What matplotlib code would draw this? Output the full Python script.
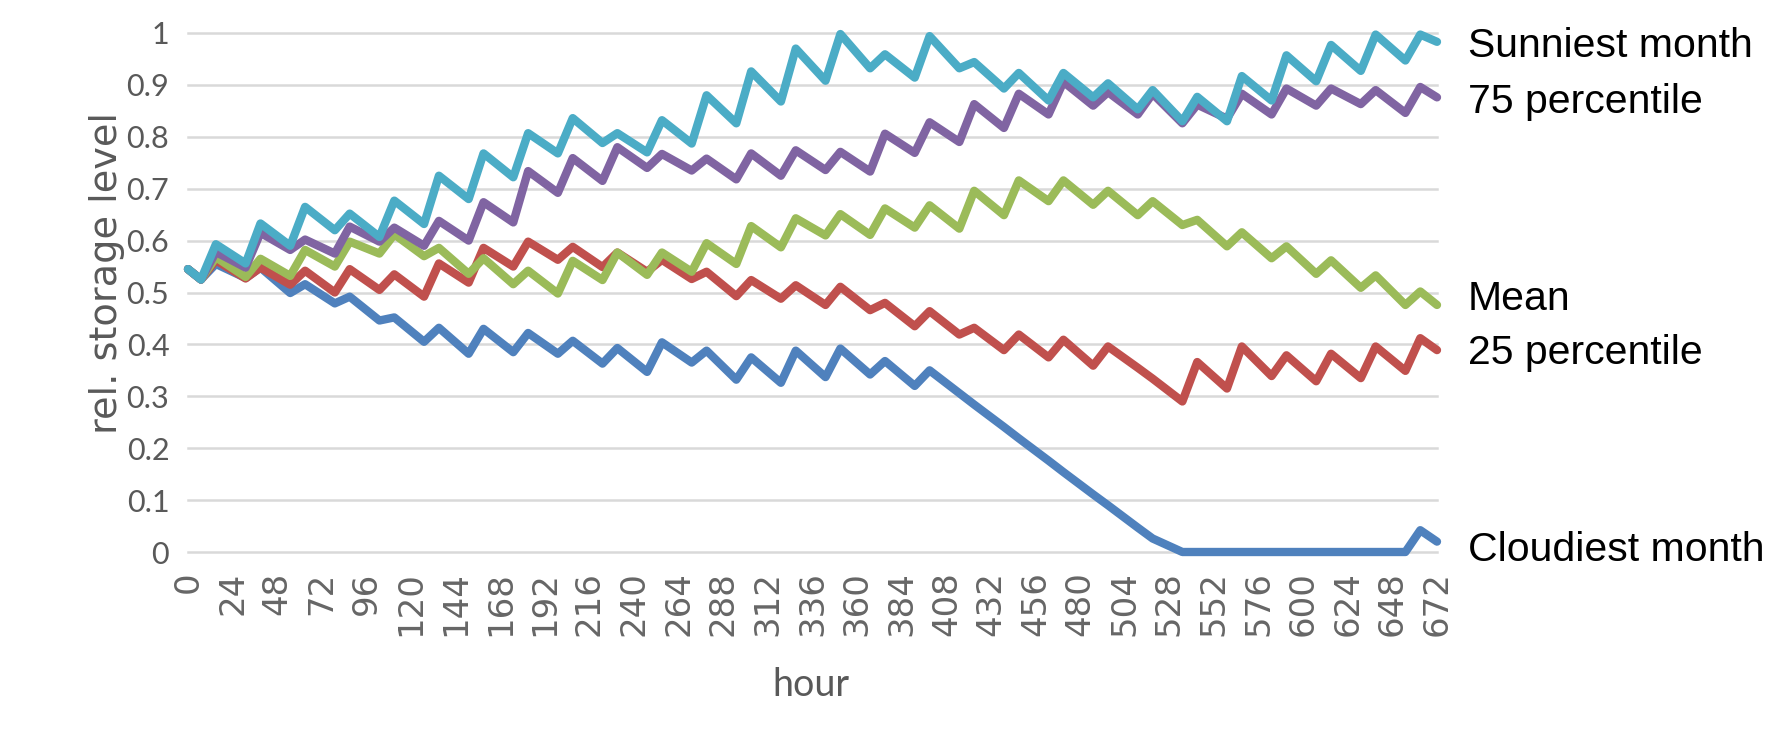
import matplotlib
matplotlib.use("Agg")
import matplotlib.pyplot as plt
import numpy as np

# ---------------- data ----------------
hours = [0, 7, 15, 31, 39, 55, 63, 79, 87, 103, 111, 127, 135, 151, 159, 175, 183,
         199, 207, 223, 231, 247, 255, 271, 279, 295, 303, 319, 327, 343, 351, 367,
         375, 391, 399, 415, 423, 439, 447, 463, 471, 487, 495, 511, 519, 535, 543,
         559, 567, 583, 591, 607, 615, 631, 639, 655, 663, 672]

cloudiest = [0.545, 0.525, 0.555, 0.528, 0.548, 0.499, 0.516, 0.479, 0.492, 0.446,
             0.452, 0.405, 0.432, 0.382, 0.430, 0.385, 0.422, 0.382, 0.407, 0.363,
             0.393, 0.347, 0.404, 0.365, 0.388, 0.332, 0.375, 0.326, 0.388, 0.337,
             0.392, 0.342, 0.368, 0.320, 0.350, 0.306, 0.284, 0.241, 0.219, 0.176,
             0.154, 0.111, 0.090, 0.047, 0.026, 0.0, 0.0, 0.0, 0.0, 0.0, 0.0, 0.0,
             0.0, 0.0, 0.0, 0.0, 0.042, 0.020]

pct25 = [0.545, 0.525, 0.562, 0.527, 0.548, 0.515, 0.542, 0.500, 0.545, 0.505,
         0.535, 0.492, 0.556, 0.519, 0.586, 0.550, 0.598, 0.563, 0.588, 0.549,
         0.577, 0.540, 0.563, 0.526, 0.540, 0.493, 0.524, 0.488, 0.514, 0.476,
         0.511, 0.466, 0.480, 0.435, 0.464, 0.419, 0.432, 0.389, 0.419, 0.375,
         0.409, 0.359, 0.396, 0.355, 0.334, 0.290, 0.366, 0.315, 0.396, 0.339,
         0.379, 0.329, 0.382, 0.335, 0.396, 0.349, 0.412, 0.389]

mean = [0.545, 0.525, 0.568, 0.530, 0.565, 0.532, 0.582, 0.550, 0.598, 0.575,
        0.612, 0.570, 0.586, 0.536, 0.566, 0.516, 0.542, 0.498, 0.561, 0.524,
        0.577, 0.534, 0.577, 0.540, 0.595, 0.555, 0.628, 0.587, 0.643, 0.610,
        0.651, 0.611, 0.662, 0.625, 0.668, 0.623, 0.696, 0.649, 0.716, 0.676,
        0.716, 0.669, 0.696, 0.649, 0.676, 0.630, 0.640, 0.589, 0.616, 0.566,
        0.589, 0.536, 0.562, 0.509, 0.533, 0.476, 0.502, 0.476]

pct75 = [0.545, 0.525, 0.578, 0.548, 0.615, 0.582, 0.602, 0.575, 0.627, 0.598,
         0.625, 0.590, 0.638, 0.600, 0.674, 0.635, 0.734, 0.692, 0.759, 0.715,
         0.780, 0.740, 0.767, 0.735, 0.758, 0.718, 0.768, 0.725, 0.774, 0.736,
         0.771, 0.733, 0.806, 0.769, 0.828, 0.790, 0.863, 0.817, 0.883, 0.843,
         0.906, 0.860, 0.886, 0.843, 0.883, 0.826, 0.862, 0.835, 0.883, 0.843,
         0.893, 0.860, 0.893, 0.863, 0.890, 0.846, 0.896, 0.876]

sunniest = [0.545, 0.525, 0.593, 0.556, 0.633, 0.590, 0.665, 0.620, 0.652, 0.607,
            0.677, 0.632, 0.725, 0.680, 0.768, 0.722, 0.807, 0.768, 0.836, 0.788,
            0.807, 0.770, 0.832, 0.787, 0.880, 0.826, 0.926, 0.868, 0.970, 0.908,
            0.998, 0.932, 0.959, 0.914, 0.994, 0.932, 0.944, 0.893, 0.923, 0.870,
            0.923, 0.876, 0.903, 0.853, 0.890, 0.830, 0.877, 0.830, 0.917, 0.870,
            0.957, 0.907, 0.977, 0.927, 0.997, 0.947, 0.997, 0.983]

series_names = ["Cloudiest month", "25 percentile", "Mean", "75 percentile", "Sunniest month"]
series_values = [cloudiest, pct25, mean, pct75, sunniest]
series_colors = ["#4F81BD", "#C0504D", "#9BBB59", "#8064A2", "#4BACC6"]
label_y = [0.004, 0.383, 0.487, 0.867, 0.975]

x_ticks = list(range(0, 673, 24))
y_ticks = [0, 0.1, 0.2, 0.3, 0.4, 0.5, 0.6, 0.7, 0.8, 0.9, 1]
y_ticklabels = ["0", "0.1", "0.2", "0.3", "0.4", "0.5", "0.6", "0.7", "0.8", "0.9", "1"]

# ---------------- figure ----------------
W, H = 1777, 750
fig = plt.figure(figsize=(W / 100, H / 100), dpi=100)
ax = fig.add_axes([188 / W, 1 - 552 / H, (1437 - 188) / W, (552 - 33) / H])

axis_font = "Lato"
tick_color = "#595959"

for yv in y_ticks:
    ax.axhline(yv, color="#D9D9D9", lw=1.8, zorder=0, clip_on=False)

for name, vals, col in zip(series_names, series_values, series_colors):
    ax.plot(hours, vals, color=col, lw=6, solid_joinstyle="round",
            solid_capstyle="round", clip_on=False, zorder=2)

for name, ly in zip(series_names, label_y):
    ax.annotate(name, xy=(1, ly), xycoords=("axes fraction", "data"),
                xytext=(31, 0), textcoords="offset pixels", va="center", ha="left",
                fontsize=29.5, family="Liberation Sans", color="black",
                annotation_clip=False)

ax.set_xlim(0, 672)
ax.set_ylim(0, 1)
ax.set_xticks(x_ticks)
ax.set_xticklabels([str(t) for t in x_ticks], rotation=90, fontsize=24.5,
                   family=["DejaVu Sans"], color="#666666", va="top", ha="center")
ax.set_yticks(y_ticks)
ax.set_yticklabels(y_ticklabels, fontsize=22, family=axis_font, color=tick_color)
ax.tick_params(axis="both", length=0)
ax.tick_params(axis="y", pad=13.5)
ax.tick_params(axis="x", pad=14)
for s in ax.spines.values():
    s.set_visible(False)

ax.set_xlabel("hour", fontsize=27, family=axis_font, color=tick_color)
ax.xaxis.set_label_coords(0.499, -0.222)
ax.set_ylabel("rel. storage level", fontsize=27.5, family=["DejaVu Sans"],
              color=tick_color)
ax.yaxis.set_label_coords(-0.0505, 0.537)

fig.savefig("out.png", dpi=100, facecolor="white")
